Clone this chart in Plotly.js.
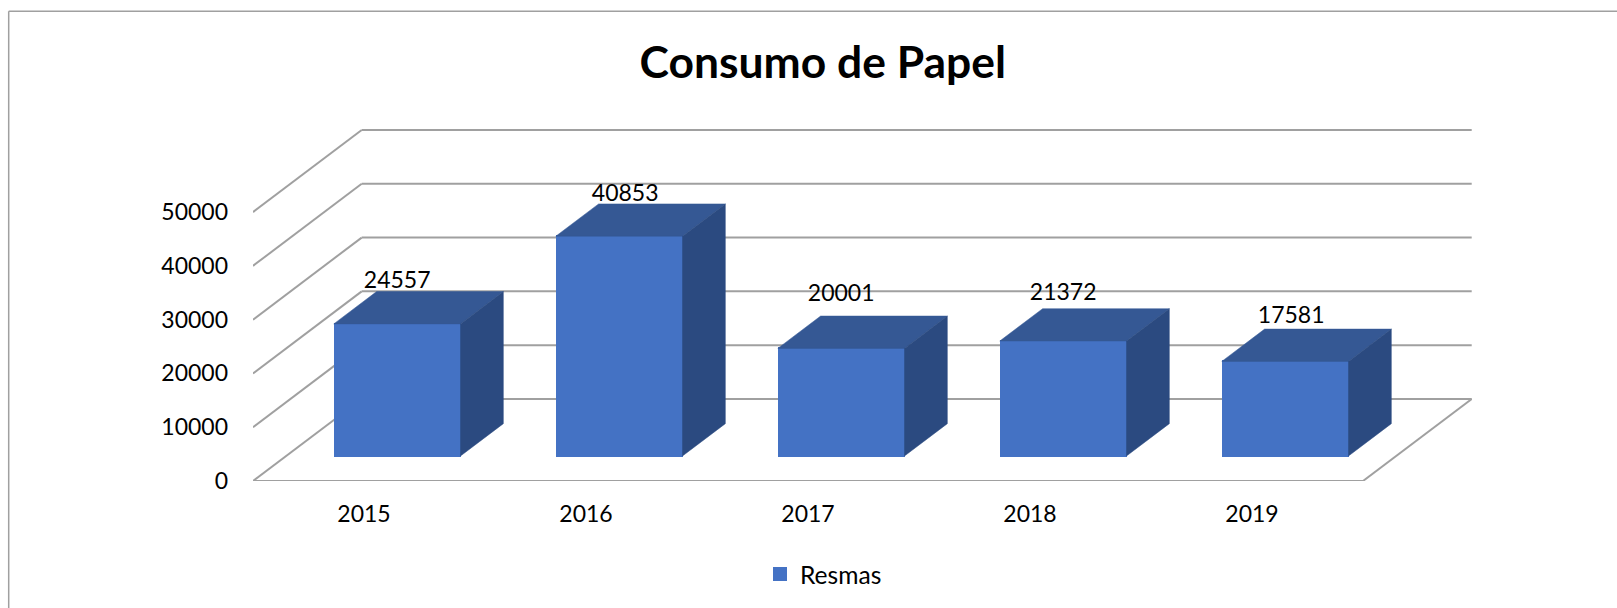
<!DOCTYPE html>
<html>
<head>
<meta charset="utf-8">
<script src="https://cdn.plot.ly/plotly-3.0.1.min.js"></script>
<style>html,body{margin:0;padding:0;background:#fff;overflow:hidden}#chart{width:1617px;height:608px}</style>
</head>
<body>
<div id="chart"></div>
<script>
const years = ['2015', '2016', '2017', '2018', '2019'];
const resmas = [24557, 40853, 20001, 21372, 17581];
const yTicks = [0, 10000, 20000, 30000, 40000, 50000];
const seriesName = 'Resmas';
const chartTitle = 'Consumo de Papel';

// layout geometry
const W = 1617, H = 608;
const mL = 252.6, mR = W - 1471.6, mT = 120, mB = H - 480.7;
const pxPerCat = 222, pxPer10k = 53.74;
const depthX = 108.7 / pxPerCat, depthY = 82 / pxPer10k * 10000;
const barFront = 0.305, barDepth = 0.394, barW = 124.7 / pxPerCat;
const xMax = (W - mL - mR) / pxPerCat;
const yMax = (H - mT - mB) / pxPer10k * 10000;
const nudgeX = [0, 6, 0, 0, 6];   // px, data label placement
const nudgeY = [42, 41, 53, 47, 44];

const GREY = '#A0A0A0', FRONT = '#4472C4', TOP = '#355894', SIDE = '#2B4A80';
const FONT = 'Lato, Carlito, sans-serif';
const n = years.length;

const proj = (x, y, z) => [x + z * depthX, y + z * depthY];
const line = (a, b) => ({type: 'line', xref: 'x', yref: 'y', layer: 'below',
  x0: a[0], y0: a[1], x1: b[0], y1: b[1], line: {color: GREY, width: 2}});

const shapes = [];
yTicks.forEach(v => {
  shapes.push(line(proj(0, v, 0), proj(0, v, 1)));
  shapes.push(line(proj(0, v, 1), proj(n, v, 1)));
});
shapes.push(line(proj(0, 0, 0), proj(n, 0, 0)));
shapes.push(line(proj(n, 0, 0), proj(n, 0, 1)));
// chart frame
const px = x => (x - mL) / (W - mL - mR), py = y => 1 - (y - mT) / (H - mT - mB);
const frame = (a, b, c, d) => ({type: 'line', xref: 'paper', yref: 'paper', layer: 'below',
  x0: px(a), y0: py(b), x1: px(c), y1: py(d), line: {color: GREY, width: 1.5}});
shapes.push(frame(8.3, 11.3, W, 11.3), frame(8.3, 11.3, 8.3, H));

const centers = years.map((_, i) => i + 0.5 + barFront * depthX);
const base0 = barFront * depthY;
const edgeW = 126.7 / pxPerCat;

const face = (xs, ys, color) => ({type: 'scatter', mode: 'lines', x: xs, y: ys, fill: 'toself',
  fillcolor: color, line: {color: color, width: 0.5}, showlegend: false, hoverinfo: 'skip'});

const traces = [{
  type: 'bar', name: seriesName, x: centers, y: resmas, base: years.map(() => base0),
  width: barW, marker: {color: FRONT, line: {color: FRONT, width: 2}}, showlegend: true,
  hovertemplate: '%{y}<extra></extra>'
}];
resmas.forEach((v, i) => {
  const l = i + 0.5 - edgeW / 2, r = i + 0.5 + edgeW / 2, z0 = barFront, z1 = barFront + barDepth;
  const pts = [[l, v, z0], [r, v, z0], [r, v, z1], [l, v, z1]].map(p => proj(...p));
  traces.push(face(pts.map(p => p[0]).concat(pts[0][0]), pts.map(p => p[1]).concat(pts[0][1]), TOP));
  const sd = [[r, 0, z0], [r, 0, z1], [r, v, z1], [r, v, z0]].map(p => proj(...p));
  traces.push(face(sd.map(p => p[0]).concat(sd[0][0]), sd.map(p => p[1]).concat(sd[0][1]), SIDE));
});
traces.push({
  type: 'scatter', mode: 'text', showlegend: false, hoverinfo: 'skip',
  x: centers.map((c, i) => c + nudgeX[i] / pxPerCat),
  y: resmas.map((v, i) => v + base0 + nudgeY[i] / pxPer10k * 10000),
  text: resmas.map(String), textposition: 'middle center',
  textfont: {family: FONT, size: 23, color: '#000'}, cliponaxis: false
});

const layout = {
  width: W, height: H, paper_bgcolor: '#fff', plot_bgcolor: 'rgba(0,0,0,0)',
  margin: {l: mL, r: mR, t: mT, b: mB, pad: 0, autoexpand: false},
  title: {text: '<b>' + chartTitle + '</b>', x: 822.8 / W, xref: 'container', xanchor: 'center',
    y: 1 - 62 / H, yref: 'container', yanchor: 'middle', font: {family: FONT, size: 44.4, color: '#000'}},
  xaxis: {type: 'linear', range: [0, xMax], tickmode: 'array', tickvals: years.map((_, i) => i + 0.5),
    ticktext: years, showgrid: false, zeroline: false, showline: false, ticks: '',
    ticklabelstandoff: 17, tickfont: {family: FONT, size: 23, color: '#000'}, automargin: false},
  yaxis: {range: [0, yMax], tickmode: 'array', tickvals: yTicks, ticktext: yTicks.map(String),
    showgrid: false, zeroline: false, showline: false, ticks: '',
    ticklabelstandoff: 24, tickfont: {family: FONT, size: 23, color: '#000'}, automargin: false},
  showlegend: true,
  legend: {xref: 'container', yref: 'container', x: 760 / W, y: 1 - 574 / H, xanchor: 'left', yanchor: 'middle',
    bgcolor: 'rgba(0,0,0,0)', font: {family: FONT, size: 24.6, color: '#000'}},
  bargap: 0, shapes: shapes
};
Plotly.newPlot('chart', traces, layout, {displayModeBar: false, responsive: false});
</script>
</body>
</html>
